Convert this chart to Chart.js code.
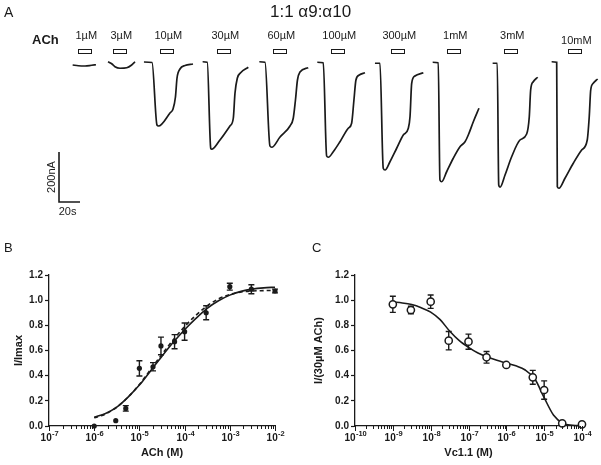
<!DOCTYPE html>
<html>
<head>
<meta charset="utf-8">
<script src="https://cdn.jsdelivr.net/npm/chart.js@4.4.1/dist/chart.umd.min.js"></script>
<style>
body { margin: 0; background: #fff; }
#fig { position: relative; width: 601px; height: 465px; overflow: hidden; font-family: 'Liberation Sans', Arial, sans-serif; color: #1a1a1a; }
#fig canvas { position: absolute; }
.t { position: absolute; white-space: nowrap; line-height: 16px; }
</style>
</head>
<body>
<div id="fig">
    <canvas id="chartA" width="601" height="230" style="left:0;top:0"></canvas>
    <canvas id="chartB" width="300" height="230" style="left:0;top:235px"></canvas>
    <canvas id="chartC" width="301" height="230" style="left:300px;top:235px"></canvas>
    <div class="t" style="left:4px;top:4px;font-size:14px">A</div>
    <div class="t" style="left:270px;top:2px;font-size:17px;line-height:20px">1:1 α9:α10</div>
    <div class="t" style="left:32px;top:32px;font-size:13px;font-weight:bold">ACh</div>
    <div class="t" style="left:4px;top:240px;font-size:13px">B</div>
    <div class="t" style="left:312px;top:240px;font-size:13px">C</div>
</div>
<script>
// ---- Panel A: dòng điện ghi được (thời gian s, dòng nA) ----
const concLabels = ['1µM', '3µM', '10µM', '30µM', '60µM', '100µM', '300µM', '1mM', '3mM', '10mM'];
const barStart = [74.3, 107.6, 152.4, 206.7, 260.0, 315.2, 372.4, 425.7, 480.0, 541.0];
const barDuration = 12;

const tr1uM = [[69.2, -12], [74.6, -15], [81.0, -16], [87.3, -13], [91.4, -11]];
const tr3uM = [[102.9, 1], [106.7, -8], [109.5, -19], [114.3, -25], [120.7, -23], [125.4, -12], [128.6, 1]];
const tr10uM = [[137.1, 0], [144.8, -2], [149.5, -252], [151.0, -256], [161.9, -204], [164.8, -188], [167.1, -140], [168.6, -64], [171.4, -28], [176.2, -14], [183.8, -8]];
const tr30uM = [[193.0, 1], [197.4, -1], [200.7, -345], [201.6, -349], [209.5, -312], [219.0, -256], [222.2, -225], [223.8, -125], [226.0, -65], [229.2, -43], [236.5, -21]];
const tr60uM = [[247.0, 1], [252.4, -1], [257.1, -336], [258.8, -341], [266.7, -300], [276.2, -256], [279.3, -225], [281.4, -152], [283.3, -72], [285.7, -40], [293.6, -23]];
const tr100uM = [[302.2, -1], [307.9, -3], [311.1, -376], [312.7, -381], [317.4, -359], [323.8, -319], [331.7, -265], [334.9, -245], [337.1, -152], [339.0, -72], [342.2, -52], [347.6, -43]];
const tr300uM = [[357.1, -5], [361.9, -5], [365.0, -425], [366.7, -432], [371.4, -399], [377.8, -345], [384.1, -292], [388.9, -265], [390.5, -219], [392.1, -85], [395.2, -56], [403.2, -43]];
const tr1mM = [[412.1, -1], [417.4, -3], [419.0, -472], [420.7, -479], [425.4, -439], [431.7, -385], [438.1, -339], [442.9, -319], [446.0, -292], [450.8, -239], [456.2, -185]];
const tr3mM = [[469.2, -5], [473.6, -5], [475.0, -492], [476.2, -501], [481.0, -452], [487.3, -379], [495.2, -312], [501.6, -288], [504.1, -219], [505.4, -112], [507.9, -79], [512.1, -61]];
const tr10mM = [[525.4, 1], [530.2, -1], [530.8, -499], [532.4, -505], [538.1, -465], [546.0, -405], [554.0, -352], [559.3, -312], [561.2, -219], [562.6, -112], [565.0, -85], [569.2, -68]];
const traces = [tr1uM, tr3uM, tr10uM, tr30uM, tr60uM, tr100uM, tr300uM, tr1mM, tr3mM, tr10mM];

// thanh tỉ lệ: 20 s, 200 nA
const scaleBarT = 20;
const scaleBarI = 200;
const scaleBarOrigin = [56.2, -560];

// ---- Panel B: đường cong liều ACh ----
const achConc = [1e-6, 3e-6, 5e-6, 1e-5, 2e-5, 3e-5, 6e-5, 1e-4, 3e-4, 1e-3, 3e-3, 1e-2];
const achMean = [0.0, 0.042, 0.14, 0.458, 0.471, 0.636, 0.67, 0.75, 0.90, 1.107, 1.087, 1.073];
const achSem = [0, 0, 0.022, 0.061, 0.033, 0.07, 0.056, 0.069, 0.056, 0.027, 0.036, 0.015];
const achFitX = [1e-6, 1.78e-6, 3.16e-6, 5.62e-6, 1e-5, 1.78e-5, 3.16e-5, 5.62e-5, 1e-4, 1.78e-4, 3.16e-4, 5.62e-4, 1e-3, 1.78e-3, 3.16e-3, 5.62e-3, 1e-2];
const achFitY = [0.07, 0.10, 0.15, 0.23, 0.325, 0.44, 0.555, 0.665, 0.765, 0.855, 0.935, 0.995, 1.04, 1.07, 1.088, 1.098, 1.103];
const achFit2Y = [0.065, 0.095, 0.15, 0.23, 0.33, 0.45, 0.57, 0.685, 0.79, 0.88, 0.955, 1.01, 1.045, 1.065, 1.073, 1.076, 1.077];

// ---- Panel C: ức chế bởi Vc1.1 ----
const vcConc = [1e-9, 3e-9, 1e-8, 3e-8, 1e-7, 3e-7, 1e-6, 5e-6, 1e-5, 3e-5, 1e-4];
const vcMean = [0.967, 0.922, 0.988, 0.678, 0.67, 0.546, 0.485, 0.387, 0.286, 0.021, 0.013];
const vcSem = [0.064, 0.03, 0.053, 0.073, 0.06, 0.046, 0.01, 0.055, 0.073, 0, 0];
const vcFitX = [1e-9, 1.78e-9, 3.16e-9, 5.62e-9, 1e-8, 1.78e-8, 3.16e-8, 5.62e-8, 1e-7, 1.78e-7, 3.16e-7, 5.62e-7, 1e-6, 1.78e-6, 3.16e-6, 5.62e-6, 1e-5, 1.78e-5, 3.16e-5, 5.62e-5, 1e-4];
const vcFitY = [0.985, 0.978, 0.965, 0.94, 0.905, 0.845, 0.755, 0.68, 0.625, 0.58, 0.548, 0.522, 0.50, 0.478, 0.445, 0.375, 0.225, 0.085, 0.02, 0.006, 0.002];

const yTicks = [0, 0.2, 0.4, 0.6, 0.8, 1.0, 1.2];

const INK = '#1a1a1a';
const FAMILY = "'Liberation Sans', Arial, sans-serif";

function isPow10(v) {
    const e = Math.round(Math.log10(v));
    return Math.abs(v / Math.pow(10, e) - 1) < 1e-6;
}

function logTicks(lo, hi) {
    const t = [];
    for (let e = lo; e < hi; e++) {
        for (let m = 1; m < 10; m++) t.push({ value: m * Math.pow(10, e) });
    }
    t.push({ value: Math.pow(10, hi) });
    return t;
}

const pairs = (xs, ys) => xs.map((x, i) => ({ x: x, y: ys[i] }));

// 1. Panel A
const plotA = {
    id: 'plotA',
    afterDatasetsDraw(chart) {
        const { ctx, scales: { x, y } } = chart;
        ctx.save();
        ctx.strokeStyle = INK;
        ctx.fillStyle = INK;
        ctx.lineWidth = 1;
        ctx.font = '11px ' + FAMILY;
        ctx.textAlign = 'center';
        ctx.textBaseline = 'middle';
        barStart.forEach((t0, i) => {
            const x0 = x.getPixelForValue(t0);
            const x1 = x.getPixelForValue(t0 + barDuration);
            const y0 = y.getPixelForValue(50);
            const y1 = y.getPixelForValue(34);
            ctx.strokeRect(Math.round(x0) + 0.5, Math.round(y0) + 0.5, Math.round(x1 - x0), Math.round(y1 - y0));
            const dy = i === barStart.length - 1 ? 4.5 : 0;
            ctx.fillText(concLabels[i], (x0 + x1) / 2 + 2, y.getPixelForValue(104) + dy);
        });
        // chữ của thanh tỉ lệ
        const sx = x.getPixelForValue(scaleBarOrigin[0]);
        const sy = y.getPixelForValue(scaleBarOrigin[1]);
        const sTop = y.getPixelForValue(scaleBarOrigin[1] + scaleBarI);
        const sRight = x.getPixelForValue(scaleBarOrigin[0] + scaleBarT);
        ctx.fillText('20s', (sx + sRight) / 2 - 2, sy + 10);
        ctx.translate(sx - 7, (sy + sTop) / 2);
        ctx.rotate(-Math.PI / 2);
        ctx.fillText('200nA', 0, 0);
        ctx.restore();
    }
};

const traceSets = traces.map(tr => ({
    data: tr.map(([t, i]) => ({ x: t, y: i })),
    showLine: true,
    borderColor: INK,
    borderWidth: 1.7,
    pointRadius: 0,
    cubicInterpolationMode: 'monotone',
    clip: false
}));
traceSets.push({
    data: [
        { x: scaleBarOrigin[0] + scaleBarT, y: scaleBarOrigin[1] },
        { x: scaleBarOrigin[0], y: scaleBarOrigin[1] },
        { x: scaleBarOrigin[0], y: scaleBarOrigin[1] + scaleBarI }
    ],
    showLine: true,
    borderColor: INK,
    borderWidth: 1.6,
    pointRadius: 0,
    tension: 0,
    clip: false
});

new Chart(document.getElementById('chartA'), {
    type: 'scatter',
    data: { datasets: traceSets },
    options: {
        responsive: false,
        animation: false,
        events: [],
        layout: { padding: 0 },
        plugins: { legend: { display: false }, tooltip: { enabled: false } },
        scales: {
            x: { type: 'linear', display: false, min: 0, max: 572.4 },
            y: { type: 'linear', display: false, min: -672, max: 248 }
        }
    },
    plugins: [plotA]
});

// 2. Panel B, C: trục log dùng chung
function errorBars(xs, means, sems) {
    return {
        id: 'errorBars',
        beforeDatasetsDraw(chart) {
            const { ctx, scales: { x, y } } = chart;
            ctx.save();
            ctx.strokeStyle = INK;
            ctx.lineWidth = 1.4;
            xs.forEach((c, i) => {
                if (!sems[i]) return;
                const px = x.getPixelForValue(c);
                const top = y.getPixelForValue(means[i] + sems[i]);
                const bot = y.getPixelForValue(means[i] - sems[i]);
                ctx.beginPath();
                ctx.moveTo(px, top); ctx.lineTo(px, bot);
                ctx.moveTo(px - 3, top); ctx.lineTo(px + 3, top);
                ctx.moveTo(px - 3, bot); ctx.lineTo(px + 3, bot);
                ctx.stroke();
            });
            ctx.restore();
        }
    };
}

// vạch chia phụ + nhãn 10 mũ
const logAxisMarks = {
    id: 'logAxisMarks',
    afterDraw(chart) {
        const { ctx } = chart;
        const s = chart.scales.x;
        ctx.save();
        ctx.strokeStyle = INK;
        ctx.fillStyle = INK;
        ctx.lineWidth = 1;
        ctx.textBaseline = 'alphabetic';
        s.ticks.forEach(t => {
            const px = Math.round(s.getPixelForValue(t.value)) + 0.5;
            const major = isPow10(t.value);
            ctx.beginPath();
            ctx.moveTo(px, s.top);
            ctx.lineTo(px, s.top + (major ? 5 : 3));
            ctx.stroke();
            if (!major) return;
            const exp = String(Math.round(Math.log10(t.value)));
            ctx.font = 'bold 10px ' + FAMILY;
            const wBase = ctx.measureText('10').width;
            ctx.font = 'bold 7.5px ' + FAMILY;
            const wExp = ctx.measureText(exp).width;
            const x0 = px - (wBase + wExp) / 2;
            ctx.font = 'bold 10px ' + FAMILY;
            ctx.textAlign = 'left';
            ctx.fillText('10', x0, s.top + 14.5);
            ctx.font = 'bold 7.5px ' + FAMILY;
            ctx.fillText(exp, x0 + wBase + 0.3, s.top + 9.5);
        });
        ctx.restore();
    }
};

function doseOptions(xLo, xHi, xTitle, yTitle, yWidth, padRight) {
    const tickFont = { family: FAMILY, size: 10, weight: 'bold' };
    const titleFont = { family: FAMILY, size: 11, weight: 'bold' };
    return {
        responsive: false,
        animation: false,
        events: [],
        layout: { padding: { top: 40, right: padRight, left: 0, bottom: 0 } },
        plugins: { legend: { display: false }, tooltip: { enabled: false } },
        scales: {
            x: {
                type: 'logarithmic',
                min: Math.pow(10, xLo),
                max: Math.pow(10, xHi),
                afterBuildTicks: s => { s.ticks = logTicks(xLo, xHi); },
                afterFit: s => { s.height = 39; },
                grid: { display: false, drawTicks: false },
                border: { display: true, color: INK, width: 1.3 },
                ticks: { autoSkip: false, maxRotation: 0, callback: () => '' },
                title: { display: true, text: xTitle, color: INK, font: titleFont, padding: { top: 0, bottom: 5 } }
            },
            y: {
                min: 0,
                max: 1.2,
                afterBuildTicks: s => { s.ticks = yTicks.map(v => ({ value: v })); },
                afterFit: s => { s.width = yWidth; },
                grid: { drawOnChartArea: false, drawTicks: true, tickLength: 4, color: INK, tickWidth: 1.2 },
                border: { display: true, color: INK, width: 1.3 },
                ticks: { padding: 2, color: INK, font: tickFont, callback: v => v.toFixed(1) },
                title: { display: true, text: yTitle, color: INK, font: titleFont, padding: { top: 12, bottom: 0 } }
            }
        }
    };
}

// 3. Panel B
new Chart(document.getElementById('chartB'), {
    type: 'scatter',
    data: {
        datasets: [
            {
                data: pairs(achConc, achMean),
                pointRadius: 2.6,
                pointBackgroundColor: INK,
                pointBorderWidth: 0,
                clip: false
            },
            {
                data: pairs(achFitX, achFitY),
                showLine: true,
                borderColor: INK,
                borderWidth: 1.6,
                pointRadius: 0,
                cubicInterpolationMode: 'monotone',
                clip: false
            },
            {
                data: pairs(achFitX, achFit2Y),
                showLine: true,
                borderColor: INK,
                borderWidth: 1.6,
                borderDash: [4, 3],
                pointRadius: 0,
                cubicInterpolationMode: 'monotone',
                clip: false
            }
        ]
    },
    options: doseOptions(-7, -2, 'ACh (M)', 'I/Imax', 49, 25),
    plugins: [errorBars(achConc, achMean, achSem), logAxisMarks]
});

// 4. Panel C
new Chart(document.getElementById('chartC'), {
    type: 'scatter',
    data: {
        datasets: [
            {
                data: pairs(vcConc, vcMean),
                pointRadius: 3.6,
                pointBackgroundColor: '#fff',
                pointBorderColor: INK,
                pointBorderWidth: 1.5,
                clip: false
            },
            {
                data: pairs(vcFitX, vcFitY),
                showLine: true,
                borderColor: INK,
                borderWidth: 1.6,
                pointRadius: 0,
                cubicInterpolationMode: 'monotone',
                clip: false
            }
        ]
    },
    options: doseOptions(-10, -4, 'Vc1.1 (M)', 'I/(30µM ACh)', 55, 19),
    plugins: [errorBars(vcConc, vcMean, vcSem), logAxisMarks]
});
</script>
</body>
</html>
